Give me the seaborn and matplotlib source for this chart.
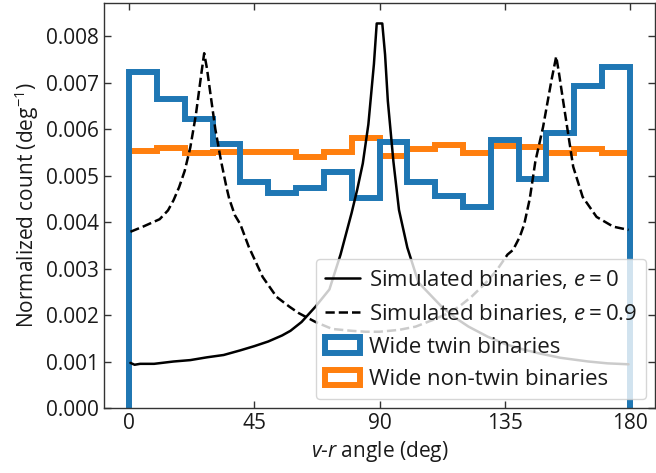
import numpy as np
import pandas as pd
import matplotlib
matplotlib.use("Agg")
import matplotlib.pyplot as plt
import seaborn as sns

# ---- data ----
bin_edges = np.arange(0, 181, 10)
twin_heights = [7.23, 6.65, 6.21, 5.67, 4.85, 4.63, 4.74, 5.07, 4.52,
                5.71, 4.87, 4.57, 4.33, 5.76, 4.92, 5.91, 6.93, 7.33]
nontwin_heights = [5.53, 5.60, 5.48, 5.51, 5.51, 5.51, 5.40, 5.50, 5.81,
                   5.43, 5.58, 5.66, 5.48, 5.63, 5.61, 5.48, 5.56, 5.48]

e0_angle = [0.5, 2, 4, 9, 16, 22, 28, 34, 40, 45, 50, 55, 58, 62, 67, 72, 76,
            80, 82, 84, 86, 88, 89, 91, 92, 93, 95, 97, 100, 104, 108, 112,
            117, 122, 129, 135, 141, 147, 155, 165, 172, 179.5]
e0_count = [0.97, 0.93, 0.95, 0.95, 1.00, 1.03, 1.09, 1.14, 1.24, 1.33, 1.43,
            1.56, 1.66, 1.85, 2.18, 2.55, 3.30, 4.20, 4.70, 5.26, 6.10, 7.40,
            8.27, 8.27, 7.60, 6.60, 5.30, 4.26, 3.45, 2.70, 2.45, 2.20, 1.95,
            1.75, 1.53, 1.38, 1.27, 1.18, 1.08, 1.00, 0.96, 0.94]

e09_angle = [0.5, 5, 11, 14, 16, 18, 20, 22, 24, 26, 27, 28, 29.4, 31, 33, 35,
             36, 38, 40, 43, 48, 53, 57.6, 61, 67, 73, 80, 85, 90, 97, 103,
             109, 114, 118.6, 123, 128, 132, 136, 138, 140.4, 142, 144, 146,
             148.8, 151.8, 153.5, 154.5, 156, 159.6, 163, 168, 174, 179.5]
e09_count = [3.79, 3.90, 4.06, 4.25, 4.47, 4.75, 5.10, 5.60, 6.30, 7.20, 7.63,
             7.30, 6.69, 6.00, 5.33, 4.75, 4.50, 4.15, 3.95, 3.47, 2.82, 2.39,
             2.18, 2.04, 1.85, 1.70, 1.66, 1.64, 1.64, 1.68, 1.75, 1.89, 2.02,
             2.18, 2.39, 2.68, 2.95, 3.30, 3.40, 3.68, 3.95, 4.50, 5.30, 6.05,
             7.05, 7.56, 7.20, 6.60, 5.19, 4.54, 4.11, 3.90, 3.83]

xticks = [0, 45, 90, 135, 180]
yticks = [0.000, 0.001, 0.002, 0.003, 0.004, 0.005, 0.006, 0.007, 0.008]

# ---- style ----
sns.set_style("ticks")
plt.rcParams["font.family"] = ["Open Sans", "DejaVu Sans"]
plt.rcParams["mathtext.fontset"] = "custom"
plt.rcParams["mathtext.rm"] = "Open Sans"
plt.rcParams["mathtext.it"] = "Open Sans:italic"
plt.rcParams["mathtext.bf"] = "Open Sans:bold"
plt.rcParams["axes.edgecolor"] = "#333333"
plt.rcParams["axes.linewidth"] = 1.0

fig = plt.figure(figsize=(6.56, 4.73), dpi=100)
ax = fig.add_axes([104 / 656, 1 - 408 / 473, (655 - 104) / 656, (408 - 3) / 473])

scale = 1e-3
df0 = pd.DataFrame({"angle": e0_angle, "count": np.array(e0_count) * scale})
df9 = pd.DataFrame({"angle": e09_angle, "count": np.array(e09_count) * scale})

sns.lineplot(data=df0, x="angle", y="count", ax=ax, color="black", lw=1.8,
             label=r"Simulated binaries, $e = 0$", zorder=3)
sns.lineplot(data=df9, x="angle", y="count", ax=ax, color="black", lw=1.8,
             linestyle="--", label=r"Simulated binaries, $e = 0.9$", zorder=3)

centers = (bin_edges[:-1] + bin_edges[1:]) / 2
ax.hist(centers, bins=bin_edges, weights=np.array(nontwin_heights) * scale,
        histtype="step", color="#ff7f0e", lw=4.3, zorder=1,
        label="Wide non-twin binaries")
ax.hist(centers, bins=bin_edges, weights=np.array(twin_heights) * scale,
        histtype="step", color="#1f77b4", lw=4.3, zorder=1.5,
        label="Wide twin binaries")

ax.set_xlim(-9, 189)
ax.set_ylim(0, 0.00871)
ax.set_xticks(xticks)
ax.set_xticklabels([str(t) for t in xticks])
ax.set_yticks(yticks)
ax.set_yticklabels([f"{t:.3f}" for t in yticks])
ax.tick_params(direction="in", top=True, right=True, labelsize=15,
               length=5, width=1, colors="#333333", labelcolor="#1a1a1a")
for s in ax.spines.values():
    s.set_visible(True)

ax.set_xlabel(r"$v$-$r$ angle (deg)", fontsize=15, color="#1a1a1a")
ax.set_ylabel(r"Normalized count (deg$^{-1}$)", fontsize=15, color="#1a1a1a")

handles, labels = ax.get_legend_handles_labels()
order = [labels.index(l) for l in [r"Simulated binaries, $e = 0$",
                                   r"Simulated binaries, $e = 0.9$",
                                   "Wide twin binaries",
                                   "Wide non-twin binaries"]]
leg = ax.legend([handles[i] for i in order], [labels[i] for i in order],
                loc="lower right", fontsize=16, labelspacing=0.52,
                handlelength=1.6, handletextpad=0.4, borderpad=0.4,
                borderaxespad=0.4, frameon=True,
                fancybox=True, framealpha=0.8)
leg.get_frame().set_edgecolor("#cccccc")
for t in leg.get_texts():
    t.set_color("#1a1a1a")

fig.savefig("out.png", dpi=100)
